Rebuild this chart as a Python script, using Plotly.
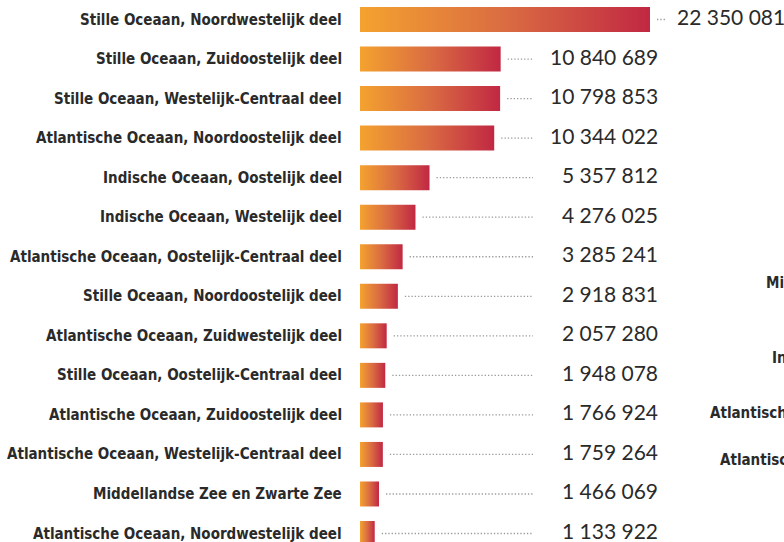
import plotly.graph_objects as go

# ---------------- data ----------------
categories = [
    "Stille Oceaan, Noordwestelijk deel",
    "Stille Oceaan, Zuidoostelijk deel",
    "Stille Oceaan, Westelijk-Centraal deel",
    "Atlantische Oceaan, Noordoostelijk deel",
    "Indische Oceaan, Oostelijk deel",
    "Indische Oceaan, Westelijk deel",
    "Atlantische Oceaan, Oostelijk-Centraal deel",
    "Stille Oceaan, Noordoostelijk deel",
    "Atlantische Oceaan, Zuidwestelijk deel",
    "Stille Oceaan, Oostelijk-Centraal deel",
    "Atlantische Oceaan, Zuidoostelijk deel",
    "Atlantische Oceaan, Westelijk-Centraal deel",
    "Middellandse Zee en Zwarte Zee",
    "Atlantische Oceaan, Noordwestelijk deel",
]
values = [22350081, 10840689, 10798853, 10344022, 5357812, 4276025,
          3285241, 2918831, 2057280, 1948078, 1766924, 1759264,
          1466069, 1133922]

# labels of the neighbouring (cut-off) panel on the right
side_labels = [
    "Middellandse Zee en Zwarte Zee",
    "Indische Oceaan, Westelijk deel",
    "Atlantische Oceaan, Zuidoostelijk deel",
    "Atlantische Oceaan, Noordwestelijk deel",
]

# ---------------- layout / style ----------------
W, H = 784, 542
L = 360
plot_w = W - L
px_per_unit = 290 / max(values)
xmax = plot_w / px_per_unit


def px(p):
    return p / px_per_unit


row = 39.54
y_top = -19.5 / row
y_bot = (H - 19.5) / row
half = 12.5 / row

grad = [[0, "#F4A22F"], [0.5, "#DA6C42"], [1, "#C12843"]]
LABEL_FONT = dict(family="DejaVu Sans Condensed, sans-serif",
                  size=15, color="#2a2a2a", weight="bold")
NUM_FONT = dict(family="Lato, sans-serif", size=21, color="#2a2a2a")


def fmt(v):
    return f"{v:,}".replace(",", " ")


fig = go.Figure()
annotations = []
for i, (c, v) in enumerate(zip(categories, values)):
    fig.add_trace(go.Scatter(
        x=[0, v, v, 0, 0],
        y=[i - half, i - half, i + half, i + half, i - half],
        mode="lines", fill="toself",
        fillgradient=dict(type="horizontal", colorscale=grad),
        line=dict(width=0), hoverinfo="text", text=f"{c}: {fmt(v)}",
        showlegend=False,
    ))
    bar_end = v * px_per_unit
    d0 = bar_end + 7
    d1 = max(173, bar_end + 15)
    fig.add_trace(go.Scatter(
        x=[px(d0), px(d1)], y=[i, i], mode="lines",
        line=dict(color="#9a9a9a", width=1.3, dash="1.3px,2px"),
        hoverinfo="skip", showlegend=False,
    ))
    # category label
    annotations.append(dict(x=0, y=i, xref="paper", yref="y", text=c,
                            showarrow=False, xanchor="right", yanchor="middle",
                            xshift=-16, font=LABEL_FONT))
    # value label
    if bar_end + 15 > 173:
        annotations.append(dict(x=px(d1 + 10), y=i, xref="x", yref="y",
                                text=fmt(v), showarrow=False, xanchor="left",
                                yanchor="middle", yshift=3, font=NUM_FONT))
    else:
        annotations.append(dict(x=px(300), y=i, xref="x", yref="y",
                                text=fmt(v), showarrow=False, xanchor="right",
                                yanchor="middle", yshift=3, font=NUM_FONT))

side_pos = [(764, 283), (770, 358), (708, 413), (718, 460)]
for t, (xp, yp) in zip(side_labels, side_pos):
    annotations.append(dict(x=(xp - L) / plot_w, y=1 - yp / H, xref="paper", yref="paper",
                            text=t, showarrow=False, xanchor="left", yanchor="middle",
                            font=LABEL_FONT))

fig.update_layout(
    width=W, height=H,
    margin=dict(l=L, r=0, t=0, b=0, autoexpand=False),
    paper_bgcolor="white", plot_bgcolor="white",
    xaxis=dict(range=[0, xmax], visible=False, fixedrange=True, automargin=False),
    yaxis=dict(range=[y_bot, y_top], visible=False, fixedrange=True, automargin=False),
    annotations=annotations,
    showlegend=False,
)

fig.write_html(
    "out.html",
    config={"displayModeBar": False},
    post_script="document.body.style.margin='0';document.body.style.overflow='hidden';",
)
